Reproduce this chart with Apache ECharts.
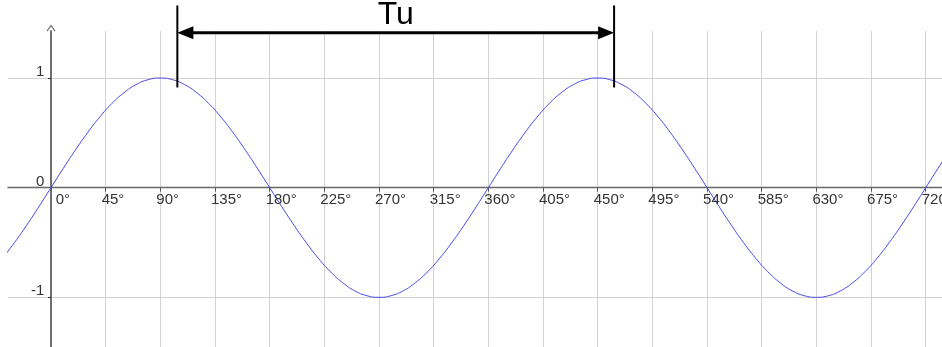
<!DOCTYPE html>
<html>
<head>
<meta charset="utf-8">
<script src="https://cdn.jsdelivr.net/npm/echarts@6/dist/echarts.min.js"></script>
<style>
  html, body { margin: 0; padding: 0; background: #fff; }
  #chart { width: 942px; height: 347px; }
</style>
</head>
<body>
<div id="chart"></div>
<script>
// Phase angle in degrees and the sampled signal level at each angle
const ANGLES = [-40, -30, -20, -10,
  0, 10, 20, 30, 40, 50, 60, 70, 80, 90,
  100, 110, 120, 130, 140, 150, 160, 170, 180,
  190, 200, 210, 220, 230, 240, 250, 260, 270,
  280, 290, 300, 310, 320, 330, 340, 350, 360,
  370, 380, 390, 400, 410, 420, 430, 440, 450,
  460, 470, 480, 490, 500, 510, 520, 530, 540,
  550, 560, 570, 580, 590, 600, 610, 620, 630,
  640, 650, 660, 670, 680, 690, 700, 710, 720,
  730, 740];
const LEVELS = [-0.643, -0.5, -0.342, -0.174,
  0, 0.174, 0.342, 0.5, 0.643, 0.766, 0.866, 0.94, 0.985, 1,
  0.985, 0.94, 0.866, 0.766, 0.643, 0.5, 0.342, 0.174, 0,
  -0.174, -0.342, -0.5, -0.643, -0.766, -0.866, -0.94, -0.985, -1,
  -0.985, -0.94, -0.866, -0.766, -0.643, -0.5, -0.342, -0.174, 0,
  0.174, 0.342, 0.5, 0.643, 0.766, 0.866, 0.94, 0.985, 1,
  0.985, 0.94, 0.866, 0.766, 0.643, 0.5, 0.342, 0.174, 0,
  -0.174, -0.342, -0.5, -0.643, -0.766, -0.866, -0.94, -0.985, -1,
  -0.985, -0.94, -0.866, -0.766, -0.643, -0.5, -0.342, -0.174, 0,
  0.174, 0.342];

// Degree ticks along the horizontal axis and level ticks on the vertical axis
const X_TICKS = [0, 45, 90, 135, 180, 225, 270, 315, 360, 405, 450, 495, 540, 585, 630, 675, 720];
const Y_TICKS = [-1, 1];
const Y_LABELS = [-1, 0, 1];

// Period marker: start/end angle, bracket top/bottom level, arrow level, caption level
const PERIOD_START = 104;
const PERIOD_END = 463.5;
const PERIOD_BAR_TOP = 1.662;
const PERIOD_BAR_BOTTOM = 0.914;
const PERIOD_ARROW = 1.414;
const PERIOD_TEXT = 1.575;
const PERIOD_LABEL = 'Tu';

const X_MIN = -35.39, X_MAX = 733.4;
const Y_MIN = -1.453, Y_MAX = 1.429;

const FONT = '"Liberation Sans", Arial, sans-serif';
const LABEL_COLOR = '#333333';
const LABEL_FONT = '15px ' + FONT;

const chart = echarts.init(document.getElementById('chart'));

chart.setOption({
  animation: false,
  backgroundColor: '#ffffff',
  grid: { left: 8, right: 0, top: 31, bottom: 0, containLabel: false, outerBoundsMode: 'none' },
  xAxis: {
    type: 'value', min: X_MIN, max: X_MAX, position: 'bottom',
    axisLine: { show: true, onZero: true, lineStyle: { color: '#666666', width: 1.4 } },
    axisTick: { show: true, customValues: X_TICKS, length: 4, lineStyle: { color: '#555555', width: 1 } },
    splitLine: { show: true, lineStyle: { color: '#d2d2d2', width: 1 } },
    axisLabel: { show: false }
  },
  yAxis: {
    type: 'value', min: Y_MIN, max: Y_MAX,
    axisLine: {
      show: true, onZero: true,
      symbol: ['none', 'path://M0,7 L5,0 L10,7 L9,7.8 L5,2.2 L1,7.8 Z'],
      symbolSize: [10, 7], symbolOffset: [0, 3],
      lineStyle: { color: '#707070', width: 2 }
    },
    axisTick: { show: true, customValues: Y_TICKS, length: 3, lineStyle: { color: '#333333', width: 1 } },
    splitLine: { show: true, lineStyle: { color: '#d2d2d2', width: 1 } },
    axisLabel: { show: false }
  },
  series: [
    {
      type: 'line',
      data: ANGLES.map((a, i) => [a, LEVELS[i]]),
      smooth: 0.5,
      showSymbol: false,
      lineStyle: { color: '#4747e6', width: 1 },
      z: 3
    },
    {
      // degree labels sitting just under the zero line, next to each grid line
      type: 'custom',
      clip: false,
      silent: true,
      z: 4,
      data: X_TICKS.map(v => [v, 0]),
      renderItem(params, api) {
        const v = api.value(0);
        const p = api.coord([v, 0]);
        return {
          type: 'text',
          x: p[0] + (v === 0 ? 4.7 : -4),
          y: p[1] + 4.5,
          style: { text: v + '°', fill: LABEL_COLOR, font: LABEL_FONT, textAlign: 'left', textVerticalAlign: 'top' }
        };
      }
    },
    {
      // level labels to the left of the vertical axis, resting on their line
      type: 'custom',
      clip: false,
      silent: true,
      z: 4,
      data: Y_LABELS.map(v => [0, v]),
      renderItem(params, api) {
        const v = api.value(1);
        const p = api.coord([0, v]);
        return {
          type: 'text',
          x: p[0] - 6.7,
          y: p[1] + 1.5,
          style: { text: String(v), fill: LABEL_COLOR, font: LABEL_FONT, textAlign: 'right', textVerticalAlign: 'bottom' }
        };
      }
    },
    {
      type: 'custom',
      clip: false,
      silent: true,
      z: 5,
      data: [[PERIOD_START, PERIOD_END, PERIOD_BAR_TOP, PERIOD_BAR_BOTTOM, PERIOD_ARROW, PERIOD_TEXT]],
      renderItem(params, api) {
        const x1 = api.value(0), x2 = api.value(1);
        const lt = api.coord([x1, api.value(2)]);
        const lb = api.coord([x1, api.value(3)]);
        const rt = api.coord([x2, api.value(2)]);
        const rb = api.coord([x2, api.value(3)]);
        const la = api.coord([x1, api.value(4)]);
        const ra = api.coord([x2, api.value(4)]);
        const tc = api.coord([(x1 + x2) / 2, api.value(5)]);
        const headLen = 16, headHalf = 6.5;
        return {
          type: 'group',
          children: [
            { type: 'line', shape: { x1: lt[0], y1: lt[1], x2: lb[0], y2: lb[1] },
              style: { stroke: '#000', lineWidth: 2 } },
            { type: 'line', shape: { x1: rt[0], y1: rt[1], x2: rb[0], y2: rb[1] },
              style: { stroke: '#000', lineWidth: 2 } },
            { type: 'line', shape: { x1: la[0] + headLen - 2, y1: la[1], x2: ra[0] - headLen + 2, y2: ra[1] },
              style: { stroke: '#000', lineWidth: 3 } },
            { type: 'polygon', shape: { points: [[la[0], la[1]], [la[0] + headLen, la[1] - headHalf], [la[0] + headLen, la[1] + headHalf]] },
              style: { fill: '#000' } },
            { type: 'polygon', shape: { points: [[ra[0], ra[1]], [ra[0] - headLen, ra[1] - headHalf], [ra[0] - headLen, ra[1] + headHalf]] },
              style: { fill: '#000' } },
            { type: 'text', x: tc[0], y: tc[1],
              style: { text: PERIOD_LABEL, fill: '#000', font: '32px ' + FONT, textAlign: 'center', textVerticalAlign: 'middle' } }
          ]
        };
      }
    }
  ]
});
</script>
</body>
</html>
